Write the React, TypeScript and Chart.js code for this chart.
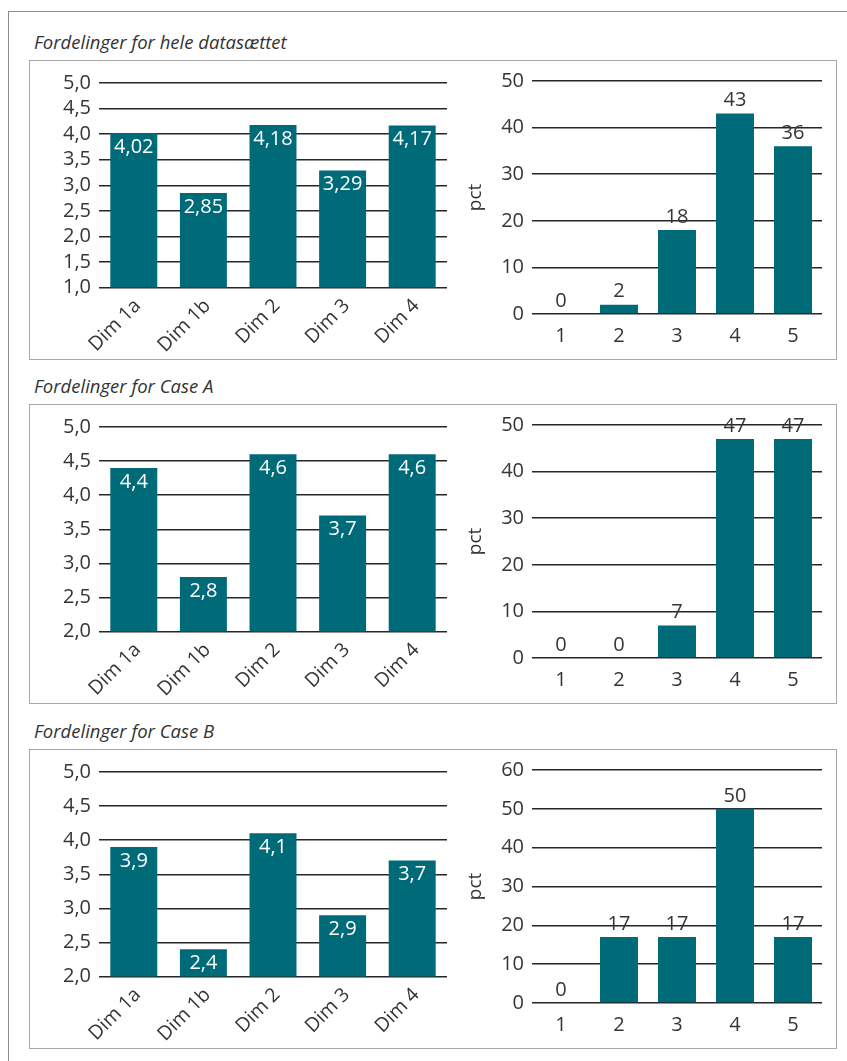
import React, { useEffect, useRef } from "react";
import { Chart, registerables } from "chart.js";

Chart.register(...registerables);

const dimCategories = ["Dim 1a", "Dim 1b", "Dim 2", "Dim 3", "Dim 4"];
const scoreCategories = ["1", "2", "3", "4", "5"];

const sectionTitles = [
  "Fordelinger for hele datasættet",
  "Fordelinger for Case A",
  "Fordelinger for Case B",
];

const meansAll = [4.02, 2.85, 4.18, 3.29, 4.17];
const pctAll = [0, 2, 18, 43, 36];
const meansA = [4.4, 2.8, 4.6, 3.7, 4.6];
const pctA = [0, 0, 7, 47, 47];
const meansB = [3.9, 2.4, 4.1, 2.9, 3.7];
const pctB = [0, 17, 17, 50, 17];

const meanAxisMin = [1, 2, 2];
const meanAxisMax = 5;
const meanAxisStep = 0.5;
const pctAxisMax = [50, 50, 60];
const pctAxisStep = 10;
const pctAxisTitle = "pct";

const meanSeries = [meansAll, meansA, meansB];
const pctSeries = [pctAll, pctA, pctB];

const BAR_COLOR = "#006b78";
const TEXT_COLOR = "#353535";
const GRID_COLOR = "#262626";
const FONT = "'Open Sans', 'Noto Sans', sans-serif";

const boxTops = [60, 404, 749];

function fmt(v: number) {
  return String(v).replace(".", ",");
}

function makeLabelPlugin(mode: "inside" | "above") {
  return {
    id: "valueLabels",
    afterDatasetsDraw(chart: any) {
      const ctx = chart.ctx;
      const meta = chart.getDatasetMeta(0);
      const data = chart.data.datasets[0].data as number[];
      ctx.save();
      ctx.font = `20px ${FONT}`;
      ctx.textAlign = "center";
      ctx.textBaseline = "middle";
      meta.data.forEach((bar: any, i: number) => {
        const text = fmt(data[i]);
        if (mode === "inside") {
          ctx.fillStyle = "#ffffff";
          ctx.fillText(text, bar.x, bar.y + 14);
        } else {
          ctx.fillStyle = TEXT_COLOR;
          ctx.fillText(text, bar.x, bar.y - 13);
        }
      });
      ctx.restore();
    },
  };
}

type ChartProps = {
  left: number;
  top: number;
  width: number;
  height: number;
  labels: string[];
  values: number[];
  min: number;
  max: number;
  step: number;
  yAxisWidth: number;
  xAxisHeight: number;
  padTop: number;
  padRight: number;
  barPct: number;
  rotate: boolean;
  mode: "inside" | "above";
  decimals: boolean;
  yTitle?: string;
  xPadding: number;
};

function BarChart(p: ChartProps) {
  const ref = useRef<HTMLCanvasElement | null>(null);
  useEffect(() => {
    if (!ref.current) return;
    const chart = new Chart(ref.current, {
      type: "bar",
      data: {
        labels: p.labels,
        datasets: [
          {
            data: p.values,
            backgroundColor: BAR_COLOR,
            borderWidth: 0,
            barPercentage: p.barPct,
            categoryPercentage: 1,
          },
        ],
      },
      options: {
        animation: false,
        responsive: false,
        maintainAspectRatio: false,
        devicePixelRatio: 1,
        layout: {
          padding: { left: 0, top: p.padTop, right: p.padRight, bottom: 0 },
        },
        plugins: {
          legend: { display: false },
          tooltip: { enabled: false },
        },
        scales: {
          x: {
            grid: { display: false, drawTicks: false },
            border: { display: false },
            ticks: {
              color: TEXT_COLOR,
              font: { family: FONT, size: p.rotate ? 19.5 : 20 },
              padding: p.xPadding,
              autoSkip: false,
              labelOffset: p.rotate ? 4 : 0,
              minRotation: p.rotate ? 45 : 0,
              maxRotation: p.rotate ? 45 : 0,
            },
            afterFit: (scale: any) => {
              scale.height = p.xAxisHeight;
            },
          },
          y: {
            min: p.min,
            max: p.max,
            grid: {
              color: GRID_COLOR,
              lineWidth: 1.5,
              drawTicks: false,
            },
            border: { display: false },
            ticks: {
              stepSize: p.step,
              autoSkip: false,
              color: TEXT_COLOR,
              font: { family: FONT, size: 20 },
              padding: 8,
              callback: (v: any) =>
                p.decimals ? Number(v).toFixed(1).replace(".", ",") : String(v),
            },
            title: p.yTitle
              ? {
                  display: true,
                  text: p.yTitle,
                  color: TEXT_COLOR,
                  font: { family: FONT, size: 19 },
                  padding: { top: 4, bottom: 0 },
                }
              : { display: false },
            afterFit: (scale: any) => {
              scale.width = p.yAxisWidth;
            },
          },
        },
      },
      plugins: [makeLabelPlugin(p.mode)],
    });
    return () => chart.destroy();
  }, []);
  return (
    <canvas
      ref={ref}
      width={p.width}
      height={p.height}
      style={{
        position: "absolute",
        left: p.left,
        top: p.top,
        width: p.width,
        height: p.height,
      }}
    />
  );
}

function Section({ index }: { index: number }) {
  const T = boxTops[index];
  const canvasTop = T + 1;
  const canvasH = 298;
  const leftCanvasLeft = 30;
  const leftCanvasW = 430;
  const rightCanvasLeft = 460;
  const rightCanvasW = 376;
  return (
    <>
      <div
        style={{
          position: "absolute",
          left: 34,
          top: T - 31,
          fontFamily: FONT,
          fontStyle: "italic",
          fontSize: 18.5,
          lineHeight: "26px",
          color: "#333",
          whiteSpace: "nowrap",
        }}
      >
        {sectionTitles[index]}
      </div>
      <div
        style={{
          position: "absolute",
          left: 29,
          top: T,
          width: 808,
          height: 300,
          boxSizing: "border-box",
          border: "1.5px solid #a8a8a8",
        }}
      />
      <BarChart
        left={leftCanvasLeft}
        top={canvasTop}
        width={leftCanvasW}
        height={canvasH}
        labels={dimCategories}
        values={meanSeries[index]}
        min={meanAxisMin[index]}
        max={meanAxisMax}
        step={meanAxisStep}
        yAxisWidth={99 - leftCanvasLeft}
        padTop={22}
        padRight={leftCanvasLeft + leftCanvasW - 447}
        xAxisHeight={canvasH - 226.5}
        barPct={0.675}
        rotate={true}
        mode="inside"
        decimals={true}
        xPadding={7}
      />
      <BarChart
        left={rightCanvasLeft}
        top={canvasTop}
        width={rightCanvasW}
        height={canvasH}
        labels={scoreCategories}
        values={pctSeries[index]}
        min={0}
        max={pctAxisMax[index]}
        step={pctAxisStep}
        yAxisWidth={532 - rightCanvasLeft}
        padTop={19}
        padRight={rightCanvasLeft + rightCanvasW - 822}
        xAxisHeight={canvasH - 253}
        barPct={0.655}
        rotate={false}
        mode="above"
        decimals={false}
        yTitle={pctAxisTitle}
        xPadding={10}
      />
    </>
  );
}

export default function App() {
  return (
    <div
      style={{
        position: "absolute",
        left: 0,
        top: 0,
        width: 847,
        height: 1061,
        overflow: "hidden",
        background: "#fff",
      }}
    >
      <div
        style={{
          position: "absolute",
          left: 8,
          top: 11,
          width: 900,
          height: 1100,
          borderLeft: "1px solid #8c8c8c",
          borderTop: "1px solid #8c8c8c",
        }}
      />
      {[0, 1, 2].map((i) => (
        <Section key={i} index={i} />
      ))}
    </div>
  );
}
